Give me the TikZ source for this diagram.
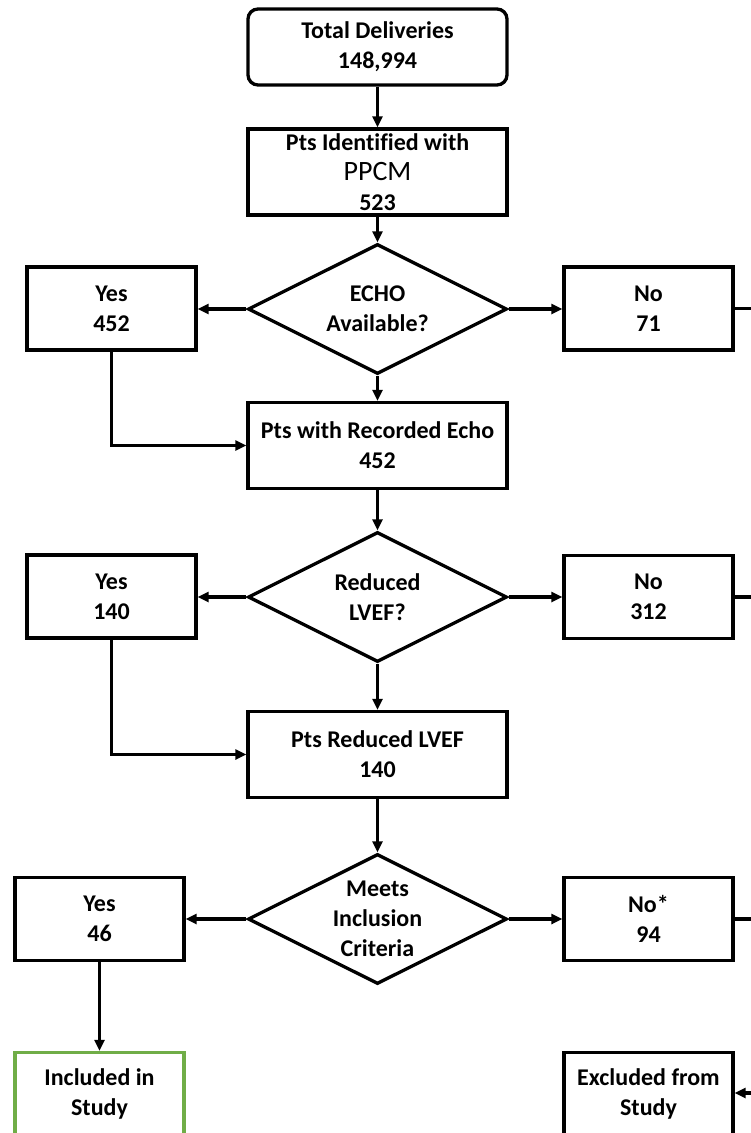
\documentclass[tikz,border=0pt]{standalone}
\usepackage{fontspec}
\setmainfont{Carlito}[Ligatures=NoCommon]
\usepackage{tikz}
\usetikzlibrary{arrows.meta, calc, positioning}
\usetikzlibrary{shapes.geometric}
\definecolor{officegreen}{RGB}{112, 173, 71}

\begin{document}
\begin{tikzpicture}[x=1pt, y=-1pt, line join=miter, >={Triangle[length=11pt,width=10pt]},
	box/.style={draw=black, line width=3.3pt, fill=white, align=center, inner sep=0pt,
		font=\fontsize{24}{30}\selectfont\bfseries},
	mainbox/.style={box, minimum width=259pt, minimum height=86pt},
	sidebox/.style={box, minimum width=169pt, minimum height=83pt},
	decision/.style={box, shape=diamond, shape aspect=2, inner sep=-12pt, minimum width=259pt, minimum height=130pt},
	link/.style={->, line width=3.3pt}]

		% frame of the cropped figure
		\useasboundingbox (0,0) rectangle (751,1133);
		\clip (0,0) rectangle (751,1133);

		% main column
		\node [mainbox, rounded corners=10pt, minimum height=76pt] (total) at (377.5,47) {Total Deliveries\\148,994};
		\node [mainbox] (ppcm) at (377.5,172) {Pts Identified with\\{\fontsize{28}{31}\selectfont\mdseries PPCM}\\523};
		\node [decision] (echoq) at (377.5,309) {ECHO\\Available?};
		\node [mainbox] (echo) at (377.5,445.5) {Pts with Recorded Echo\\452};
		\node [decision] (lvefq) at (377.5,597) {Reduced\\LVEF?};
		\node [mainbox] (lvef) at (377.5,754.5) {Pts Reduced LVEF\\140};
		\node [decision] (critq) at (377.5,919) {Meets\\Inclusion\\Criteria};

		% yes branch
		\node [sidebox] (yesA) at (111.5,308.5) {Yes\\452};
		\node [sidebox] (yesB) at (111.5,596.5) {Yes\\140};
		\node [sidebox] (yesC) at (99.5,919) {Yes\\46};
		\node [sidebox, draw=officegreen] (incl) at (99.5,1094) {Included in\\Study};

		% no branch
		\node [sidebox] (noA) at (648.5,308.5) {No\\71};
		\node [sidebox] (noB) at (648.5,597) {No\\312};
		\node [sidebox] (noC) at (648.5,919) {No*\\94};
		\node [sidebox] (excl) at (648.5,1094) {Excluded from\\Study};

		% ends of the lines that leave the figure on the right
		\coordinate (outA) at (765,308.5);
		\coordinate (outB) at (765,597);
		\coordinate (outC) at (765,919);
		\coordinate (outD) at (765,1093);

		% connectors
		\draw [link] (total) -- (ppcm);
		\draw [link] (ppcm) -- (echoq);
		\draw [link] (echoq.west) -- (yesA.east |- echoq.west);
		\draw [link] (echoq.east) -- (noA.west |- echoq.east);
		\draw [link] (echoq) -- (echo);
		\draw [link] (yesA.south) |- (echo.west);
		\draw [line width=3.3pt] (noA.east) -- (outA);

		\draw [link] (echo) -- (lvefq);
		\draw [link] (lvefq.west) -- (yesB.east |- lvefq.west);
		\draw [link] (lvefq.east) -- (noB.west |- lvefq.east);
		\draw [link] (lvefq) -- (lvef);
		\draw [link] (yesB.south) |- (lvef.west);
		\draw [line width=3.3pt] (noB.east) -- (outB);

		\draw [link] (lvef) -- (critq);
		\draw [link] (critq.west) -- (yesC.east |- critq.west);
		\draw [link] (critq.east) -- (noC.west |- critq.east);
		\draw [link] (yesC) -- (incl);
		\draw [line width=3.3pt] (noC.east) -- (outC);
		\draw [link] (outD) -- (excl.east |- outD);
\end{tikzpicture}
\end{document}
